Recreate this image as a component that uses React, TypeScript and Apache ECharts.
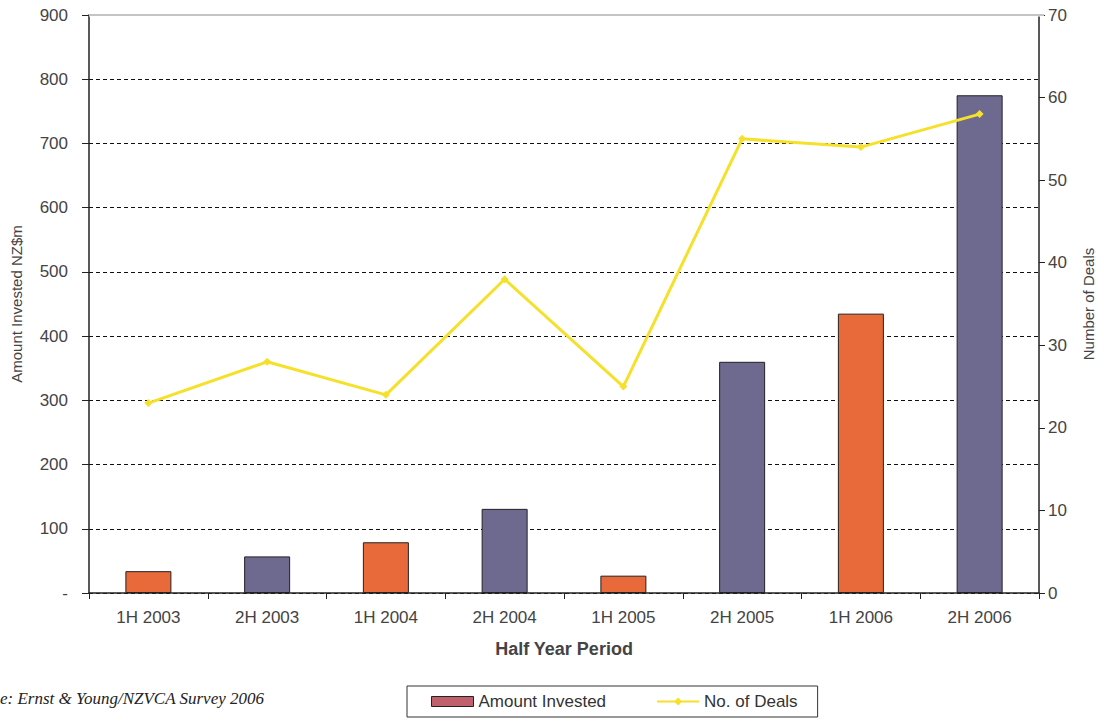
import React, { useEffect, useRef } from "react";
import * as echarts from "echarts";

const categories = ["1H 2003", "2H 2003", "1H 2004", "2H 2004", "1H 2005", "2H 2005", "1H 2006", "2H 2006"];
const amountInvested = [34, 57, 79, 131, 27, 360, 435, 775];
const numberOfDeals = [23, 28, 24, 38, 25, 55, 54, 58];
const barColors = ["#E8693A", "#6E698F", "#E8693A", "#6E698F", "#E8693A", "#6E698F", "#E8693A", "#6E698F"];

const FONT = "'Liberation Sans', Arial, sans-serif";

export default function App() {
  const ref = useRef<HTMLDivElement>(null);
  useEffect(() => {
    if (!ref.current) return;
    const chart = echarts.init(ref.current, undefined, { renderer: "svg" });
    chart.setOption({
      animation: false,
      backgroundColor: "#ffffff",
      textStyle: { fontFamily: FONT },
      grid: {
        left: 89,
        right: 60,
        top: 15,
        bottom: 129,
        show: false,
      },
      legend: {
        left: 407,
        top: 686,
        itemGap: 50,
        padding: [7, 20, 7, 24],
        borderColor: "#333",
        borderWidth: 1,
        itemWidth: 42,
        itemHeight: 10,
        textStyle: { fontSize: 17, color: "#333", fontFamily: FONT },
        data: [
          { name: "Amount Invested", icon: "rect", itemStyle: { color: "#C0606C", borderColor: "#222", borderWidth: 1 } },
          { name: "No. of Deals" },
        ],
      },
      xAxis: {
        type: "category",
        data: categories,
        boundaryGap: true,
        name: "Half Year Period",
        nameLocation: "middle",
        nameGap: 47,
        nameTextStyle: { fontSize: 18, fontWeight: "bold", color: "#444", fontFamily: FONT },
        axisLine: { lineStyle: { color: "#222", width: 1.5 } },
        axisTick: { show: true, alignWithLabel: false, length: 6, lineStyle: { color: "#222" } },
        axisLabel: { fontSize: 17, color: "#444", margin: 16, fontFamily: FONT },
      },
      yAxis: [
        {
          type: "value",
          min: 0,
          max: 900,
          interval: 100,
          name: "Amount Invested NZ$m",
          nameLocation: "middle",
          nameGap: 65,
          nameRotate: 90,
          nameTextStyle: { fontSize: 15, color: "#444", fontFamily: FONT },
          axisLine: { show: true, lineStyle: { color: "#222", width: 1.5 } },
          axisTick: { show: true, length: 7, lineStyle: { color: "#222" } },
          axisLabel: {
            fontSize: 17,
            color: "#444",
            margin: 21,
            fontFamily: FONT,
            formatter: (v: number) => (v === 0 ? "-" : String(v)),
          },
          splitLine: { show: true, lineStyle: { color: "#111", type: [4, 3], width: 1 } },
        },
        {
          type: "value",
          min: 0,
          max: 70,
          interval: 10,
          name: "Number of Deals",
          nameLocation: "middle",
          nameGap: 42,
          nameRotate: 90,
          nameTextStyle: { fontSize: 15, color: "#444", fontFamily: FONT },
          axisLine: { show: true, lineStyle: { color: "#222", width: 1.5 } },
          axisTick: { show: true, length: 6, lineStyle: { color: "#222" } },
          axisLabel: { fontSize: 17, color: "#444", margin: 9, fontFamily: FONT },
          splitLine: { show: false },
        },
      ],
      series: [
        {
          name: "Amount Invested",
          type: "bar",
          yAxisIndex: 0,
          barWidth: 46,
          data: amountInvested.map((v, i) => ({
            value: v,
            itemStyle: { color: barColors[i], borderColor: "#222", borderWidth: 1 },
          })),
        },
        {
          name: "No. of Deals",
          type: "line",
          yAxisIndex: 1,
          data: numberOfDeals,
          symbol: "diamond",
          symbolSize: 8,
          lineStyle: { color: "#F5E02A", width: 3 },
          itemStyle: { color: "#F5E02A" },
          z: 5,
        },
      ],
      graphic: [
        {
          type: "line",
          shape: { x1: 89, y1: 15, x2: 1044, y2: 15 },
          style: { stroke: "#ffffff", lineWidth: 3 },
          z: 10,
        },
        {
          type: "line",
          shape: { x1: 89, y1: 15, x2: 1044, y2: 15 },
          style: { stroke: "#8a8a8a", lineWidth: 1.2 },
          z: 11,
        },
        {
          type: "text",
          left: 0,
          top: 690,
          style: {
            text: "e: Ernst & Young/NZVCA Survey 2006",
            font: "italic 17px 'Liberation Serif', 'Times New Roman', serif",
            fill: "#222",
          },
        },
      ],
    });
    return () => chart.dispose();
  }, []);
  return (
    <div
      ref={ref}
      style={{ position: "absolute", left: 0, top: 0, width: 1104, height: 722 }}
    />
  );
}
